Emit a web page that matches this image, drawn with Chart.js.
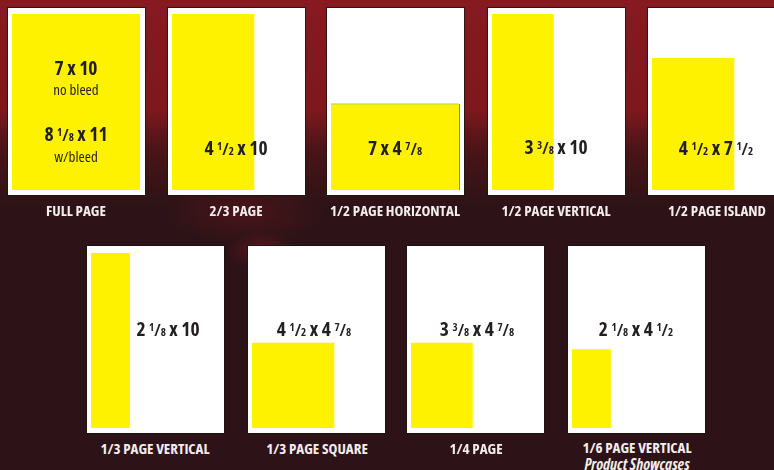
<!DOCTYPE html>
<html>
<head>
<meta charset="utf-8">
<script src="https://cdn.jsdelivr.net/npm/chart.js@4.4.1/dist/chart.umd.min.js"></script>
<style>
  html, body { margin: 0; padding: 0; background: #2d1317; }
  #wrap {
    position: relative; width: 774px; height: 470px; overflow: hidden;
    background:
      radial-gradient(ellipse 35px 18px at 262px 250px, rgba(140,26,34,0.5), rgba(140,26,34,0)),
      radial-gradient(ellipse 80px 30px at 245px 212px, rgba(110,22,28,0.45), rgba(110,22,28,0)),
      linear-gradient(to bottom, #861a20 0px, #7e181d 110px, #4a1418 150px, rgba(45,19,23,0) 205px),
      #2d1317;
    font-family: "Open Sans", "DejaVu Sans Condensed", sans-serif;
    font-stretch: 75%;
  }
  .panel { position: absolute; box-shadow: 0 0 0 1px rgba(25,20,20,0.8); }
  .panel canvas { display: block; }
  .dim, .sub, .name, .note {
    position: absolute; white-space: nowrap; transform: translate(-50%, -50%);
  }
  .dim { font-weight: bold; font-size: 19.5px; color: #231f20; }
  .sub { font-size: 15px; color: #231f20; }
  .name { font-weight: bold; font-size: 15px; color: #f3eded; }
  .note { font-weight: bold; font-style: italic; font-size: 15.5px; color: #f3eded; }
  .num, .den { font-size: 11px; }
  .num { position: relative; top: -5.5px; }
  .sl { font-size: 16px; }
</style>
</head>
<body>
<div id="wrap"></div>
<script>
// ad sizes (inches)
const adNames = ['FULL PAGE', '2/3 PAGE', '1/2 PAGE HORIZONTAL', '1/2 PAGE VERTICAL', '1/2 PAGE ISLAND',
                 '1/3 PAGE VERTICAL', '1/3 PAGE SQUARE', '1/4 PAGE', '1/6 PAGE VERTICAL'];
const adWidths = [7, 4.5, 7, 3.375, 4.5, 2.125, 4.5, 3.375, 2.125];
const adHeights = [10, 10, 4.875, 10, 7.5, 10, 4.875, 4.875, 4.5];
const adAnchor = ['top', 'top', 'bottom', 'top', 'bottom', 'top', 'bottom', 'bottom', 'bottom'];
const adNotes = ['', '', '', '', '', '', '', '', 'Product Showcases'];
const bleedSize = [8.125, 11];

// layout: panel boxes and where the size text sits inside each one
const panelBox = [[8, 8], [168, 8], [327, 8], [488, 8], [648, 8],
                  [87, 246], [248, 246], [407, 246], [568, 246]];
const panelW = 137, panelH = 187;
const dimPos = [[68, 59], [68, 139], [68, 139], [68, 138], [68, 139],
                [81, 82], [66, 82], [70, 82], [68, 82]];
const namePos = [[76, 210], [236, 210], [395, 210], [556, 210], [717, 210],
                 [155, 448], [317, 448], [476, 448], [637, 447]];

function frac(v) {
  const whole = Math.floor(v);
  const eighths = Math.round((v - whole) * 8);
  if (!eighths) return String(whole);
  let n = eighths, d = 8;
  while (n % 2 === 0) { n /= 2; d /= 2; }
  return whole + ' <span class="num">' + n + '</span><span class="sl">/</span><span class="den">' + d + '</span>';
}
function sizeText(w, h) { return frac(w) + ' x ' + frac(h); }

function adShape(w, h, anchor) {
  const y0 = anchor === 'top' ? 0 : 10 - h;
  const y1 = y0 + h;
  return [{x: 0, y: y1}, {x: 0, y: y0}, {x: w, y: y0}, {x: w, y: y1}, {x: 0, y: y1}];
}
// top and right edge only
function adEdge(w, h, anchor) {
  const y0 = anchor === 'top' ? 0 : 10 - h;
  return [{x: 0, y: y0}, {x: w, y: y0}, {x: w, y: y0 + h}];
}

const pageBg = {
  id: 'pageBg',
  beforeDraw(chart) {
    const c = chart.ctx;
    c.save();
    c.fillStyle = '#ffffff';
    c.fillRect(0, 0, chart.width, chart.height);
    c.restore();
  }
};

const wrap = document.getElementById('wrap');

function addText(cls, html, x, y) {
  const el = document.createElement('div');
  el.className = cls;
  el.innerHTML = html;
  el.style.left = x + 'px';
  el.style.top = y + 'px';
  wrap.appendChild(el);
}

adNames.forEach((name, i) => {
  const [px, py] = panelBox[i];
  const box = document.createElement('div');
  box.className = 'panel';
  box.style.left = px + 'px';
  box.style.top = py + 'px';
  const cv = document.createElement('canvas');
  cv.width = panelW;
  cv.height = panelH;
  box.appendChild(cv);
  wrap.appendChild(box);

  const datasets = [{
    data: adShape(adWidths[i], adHeights[i], adAnchor[i]),
    backgroundColor: '#fff200',
    borderWidth: 0,
    fill: 'shape',
    pointRadius: 0,
    tension: 0,
    clip: false
  }];
  if (i === 2) {
    datasets.push({
      data: adEdge(adWidths[i], adHeights[i], adAnchor[i]),
      borderColor: '#3a9c6c',
      borderWidth: 1,
      fill: false,
      pointRadius: 0,
      tension: 0,
      clip: false
    });
  }

  const topPad = i < 5 ? 0.34 : 0.4;
  new Chart(cv.getContext('2d'), {
    type: 'line',
    data: { datasets },
    options: {
      responsive: false,
      animation: false,
      devicePixelRatio: 1,
      layout: { padding: 0 },
      plugins: { legend: { display: false }, tooltip: { enabled: false } },
      scales: {
        x: { type: 'linear', min: -0.22, max: 7.27, display: false },
        y: { type: 'linear', min: -topPad, max: 10.28, reverse: true, display: false }
      }
    },
    plugins: [pageBg]
  });

  const [dx, dy] = dimPos[i];
  if (i === 0) {
    addText('dim', sizeText(adWidths[0], adHeights[0]), px + dx, py + dy);
    addText('sub', 'no bleed', px + dx, py + 81);
    addText('dim', sizeText(bleedSize[0], bleedSize[1]), px + dx, py + 125);
    addText('sub', 'w/bleed', px + dx, py + 148);
  } else {
    addText('dim', sizeText(adWidths[i], adHeights[i]), px + dx, py + dy);
  }
  addText('name', name, namePos[i][0], namePos[i][1]);
  if (adNotes[i]) addText('note', adNotes[i], namePos[i][0], namePos[i][1] + 17);
});
</script>
</body>
</html>
